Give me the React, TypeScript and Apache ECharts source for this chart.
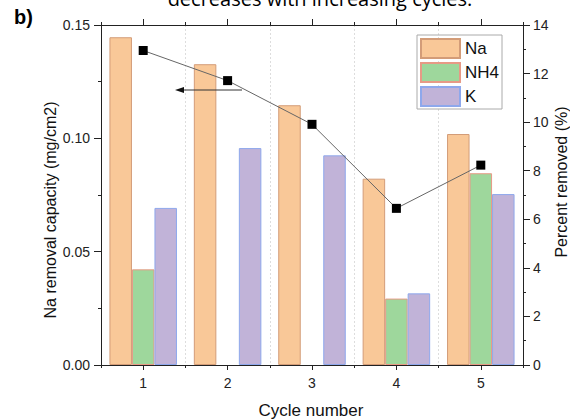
import React, { useEffect, useRef } from "react";
import * as echarts from "echarts";

const categories = ["1", "2", "3", "4", "5"];
const naValues = [0.1446, 0.1327, 0.1146, 0.0822, 0.1019];
const nh4Values: (number | string)[] = [0.0422, "-", "-", 0.0293, 0.0846];
const kValues = [0.0693, 0.0957, 0.0925, 0.0316, 0.0754];
const percentRemoved = [12.95, 11.71, 9.91, 6.45, 8.23];
const leftTicks = { min: 0, max: 0.15, interval: 0.05 };
const rightTicks = { min: 0, max: 14, interval: 2 };

const FONT = "'Liberation Sans', Arial, sans-serif";
const AXIS_COLOR = "#222";

export default function App() {
  const ref = useRef<HTMLDivElement>(null);
  useEffect(() => {
    if (!ref.current) return;
    const chart = echarts.init(ref.current, undefined, { renderer: "svg" });
    const baseX = {
      type: "category" as const,
      data: categories,
      boundaryGap: true,
      axisLine: { show: true, lineStyle: { color: AXIS_COLOR, width: 1 } },
      axisLabel: { show: false },
      splitLine: { show: false },
    };
    chart.setOption({
      animation: false,
      textStyle: { fontFamily: FONT },
      grid: { left: 101, right: 47, top: 25, bottom: 54, containLabel: false },
      legend: {
        data: ["Na", "NH4", "K"],
        orient: "vertical",
        left: 417,
        top: 35,
        itemWidth: 39,
        itemHeight: 19,
        itemGap: 3,
        padding: [3, 3, 2, 3],
        borderColor: "#aaa",
        borderWidth: 1,
        icon: "rect",
        textStyle: { fontSize: 17, color: "#111", fontFamily: FONT },
      },
      xAxis: [
        {
          ...baseX,
          position: "bottom",
          axisTick: { show: true, alignWithLabel: true, length: 5, lineStyle: { color: AXIS_COLOR } },
          axisLabel: { show: true, fontSize: 14, color: AXIS_COLOR, margin: 11, fontFamily: FONT },
        },
        {
          ...baseX,
          position: "bottom",
          axisTick: { show: true, alignWithLabel: false, length: 3, lineStyle: { color: AXIS_COLOR } },
          splitLine: { show: true, lineStyle: { color: "#dddddd", type: [2, 2], width: 1 } },
        },
        {
          ...baseX,
          position: "top",
          axisTick: { show: true, alignWithLabel: true, length: 6, lineStyle: { color: AXIS_COLOR } },
        },
        {
          ...baseX,
          position: "top",
          axisTick: { show: true, alignWithLabel: false, length: 3, lineStyle: { color: AXIS_COLOR } },
        },
      ],
      yAxis: [
        {
          type: "value",
          position: "left",
          ...leftTicks,
          axisLine: { show: true, lineStyle: { color: AXIS_COLOR } },
          axisTick: { show: true, length: 7, lineStyle: { color: AXIS_COLOR } },
          minorTick: { show: true, splitNumber: 2, length: 3, lineStyle: { color: AXIS_COLOR } },
          splitLine: { show: false },
          axisLabel: {
            fontSize: 14,
            color: AXIS_COLOR,
            margin: 11,
            fontFamily: FONT,
            formatter: (v: number) => v.toFixed(2),
          },
        },
        {
          type: "value",
          position: "right",
          ...rightTicks,
          axisLine: { show: true, lineStyle: { color: AXIS_COLOR } },
          axisTick: { show: true, length: 7, lineStyle: { color: AXIS_COLOR } },
          minorTick: { show: true, splitNumber: 2, length: 3, lineStyle: { color: AXIS_COLOR } },
          splitLine: { show: false },
          axisLabel: { fontSize: 14, color: AXIS_COLOR, margin: 10, fontFamily: FONT },
        },
      ],
      series: [
        {
          name: "Na",
          type: "bar",
          data: naValues,
          barGap: "0%",
          barCategoryGap: "20%",
          itemStyle: { color: "#F9C898", borderColor: "#D39C78", borderWidth: 1 },
        },
        {
          name: "NH4",
          type: "bar",
          data: nh4Values,
          barGap: "0%",
          barCategoryGap: "20%",
          itemStyle: { color: "#9ED79C", borderColor: "#E79A86", borderWidth: 1 },
        },
        {
          name: "K",
          type: "bar",
          data: kValues,
          barGap: "0%",
          barCategoryGap: "20%",
          itemStyle: { color: "#C1B3D8", borderColor: "#8EA8EC", borderWidth: 1 },
        },
        {
          name: "Percent removed",
          type: "line",
          yAxisIndex: 1,
          data: percentRemoved,
          symbol: "rect",
          symbolSize: 9,
          lineStyle: { color: "#666", width: 1 },
          itemStyle: { color: "#000" },
          z: 5,
        },
      ],
      graphic: [
        {
          type: "text",
          x: 320,
          y: -2,
          style: {
            text: "decreases with increasing cycles.",
            font: "20px 'Open Sans', sans-serif",
            fill: "#000",
            align: "center",
            verticalAlign: "middle",
          },
        },
        {
          type: "text",
          x: 14,
          y: 17,
          style: {
            text: "b)",
            font: "bold 20px 'Liberation Sans', Arial, sans-serif",
            fill: "#000",
            align: "left",
            verticalAlign: "middle",
          },
        },
        {
          type: "text",
          x: 50,
          y: 210,
          rotation: Math.PI / 2,
          style: {
            text: "Na removal capacity (mg/cm2)",
            font: "16px 'Liberation Sans', Arial, sans-serif",
            fill: "#111",
            align: "center",
            verticalAlign: "middle",
          },
        },
        {
          type: "text",
          x: 561,
          y: 182,
          rotation: Math.PI / 2,
          style: {
            text: "Percent removed (%)",
            font: "16px 'Liberation Sans', Arial, sans-serif",
            fill: "#111",
            align: "center",
            verticalAlign: "middle",
          },
        },
        {
          type: "text",
          x: 311,
          y: 410,
          style: {
            text: "Cycle number",
            font: "17px 'Liberation Sans', Arial, sans-serif",
            fill: "#111",
            align: "center",
            verticalAlign: "middle",
          },
        },
        {
          type: "line",
          shape: { x1: 242, y1: 90, x2: 180, y2: 90 },
          style: { stroke: "#333", lineWidth: 1 },
          z: 10,
        },
        {
          type: "polygon",
          shape: { points: [[175, 90], [184, 87], [184, 93]] },
          style: { fill: "#111" },
          z: 10,
        },
      ],
    });
    return () => chart.dispose();
  }, []);
  return (
    <div
      ref={ref}
      style={{ position: "fixed", left: 0, top: 0, width: 570, height: 419, background: "#fff" }}
    />
  );
}
